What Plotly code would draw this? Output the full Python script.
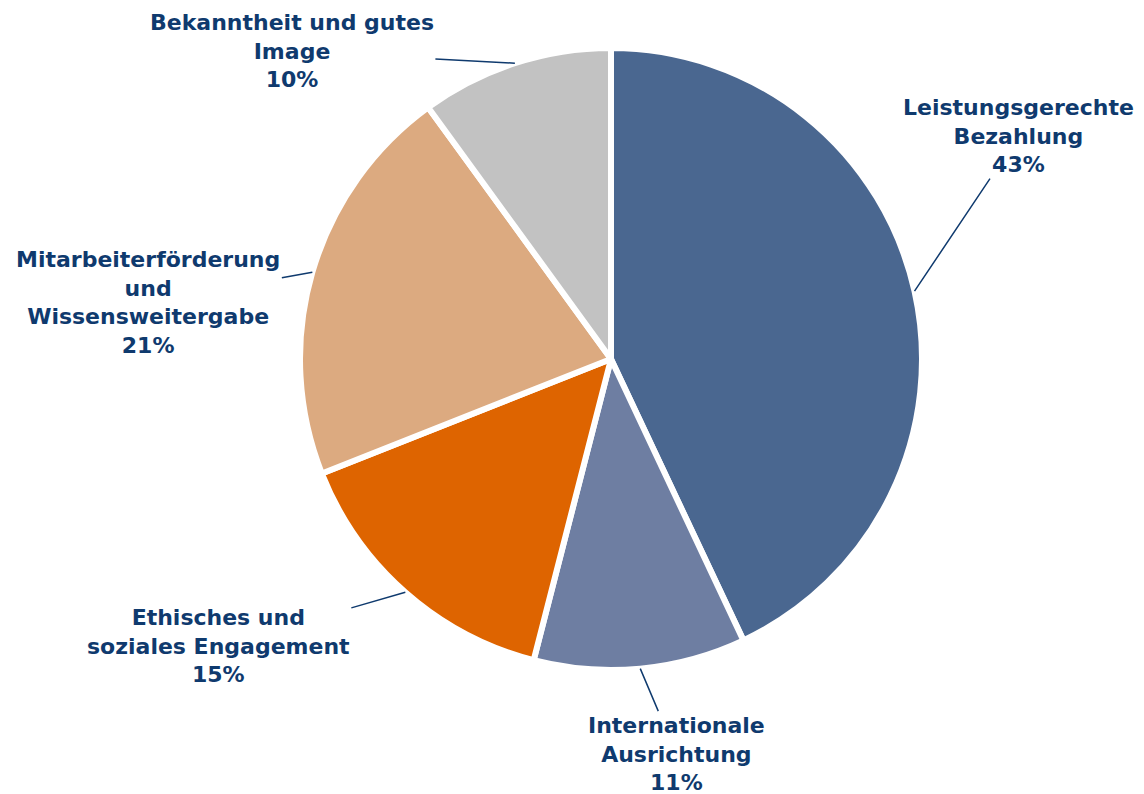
import math
import plotly.graph_objects as go

labels = ["Leistungsgerechte<br>Bezahlung", "Internationale<br>Ausrichtung",
          "Ethisches und<br>soziales Engagement", "Mitarbeiterförderung<br>und<br>Wissensweitergabe",
          "Bekanntheit und gutes<br>Image"]
values = [43, 11, 15, 21, 10]
colors = ["#4A6790", "#6E7EA2", "#DE6400", "#DCAA80", "#C2C2C2"]
# label offsets (pixels) from the slice edge midpoint
label_dx = [104, 36, -187, -164, -223]
label_dy = [-155, 85, 54, 30, -12]

W, H = 1144, 794
cx, cy, r = 611, 359, 311
dom_x = [(cx - r) / W, (cx + r) / W]
dom_y = [1 - (cy + r) / H, 1 - (cy - r) / H]
text_color = "#0F3A6E"

fig = go.Figure(go.Pie(
    labels=labels, values=values, sort=False, direction="clockwise", rotation=0,
    marker=dict(colors=colors, line=dict(color="white", width=6)),
    textinfo="none", domain=dict(x=dom_x, y=dom_y),
    showlegend=False, hoverinfo="skip",
))

total = sum(values)
cum = 0
annotations = []
for lab, v, dx, dy in zip(labels, values, label_dx, label_dy):
    mid = (cum + v / 2) / total * 2 * math.pi
    cum += v
    px = cx + r * math.sin(mid)
    py = cy - r * math.cos(mid)
    annotations.append(dict(
        x=px / W, y=1 - py / H, xref="paper", yref="paper",
        text=f"<b>{lab}<br>{round(v / total * 100)}%</b>",
        showarrow=True, arrowhead=0, arrowwidth=1.5, arrowcolor=text_color,
        ax=dx, ay=dy, standoff=0,
        font=dict(family="DejaVu Sans", size=22, color=text_color),
        align="center",
    ))

fig.update_layout(width=W, height=H, margin=dict(l=0, r=0, t=0, b=0),
                  paper_bgcolor="white", plot_bgcolor="white",
                  annotations=annotations)
fig.write_html("out.html")
